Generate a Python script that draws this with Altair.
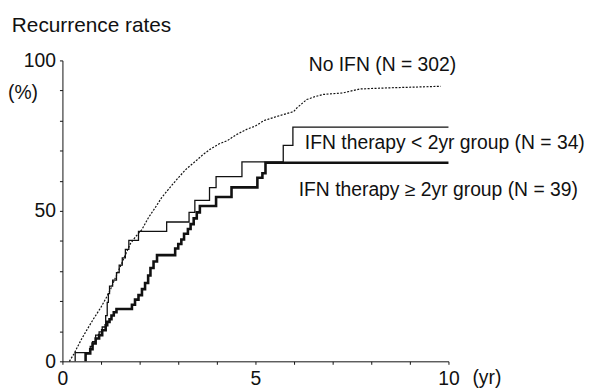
import altair as alt
import pandas as pd

# ---- data (years, % recurrence) ----
no_ifn_t = [0.18, 0.30, 0.39, 0.50, 0.65, 0.80, 1.00, 1.15, 1.25, 1.33, 1.45, 1.60, 1.76, 1.90,
            2.06, 2.23, 2.40, 2.57, 2.80, 3.00, 3.20, 3.43, 3.65, 3.85, 4.05, 4.28, 4.50, 4.79,
            5.00, 5.22, 5.56, 5.99, 6.08, 6.33, 6.55, 6.76, 7.27, 7.70, 8.26, 9.80]
no_ifn_v = [0.0, 2.5, 4.8, 7.5, 10.8, 14.0, 18.0, 21.5, 24.0, 26.5, 30.0, 34.5, 39.1, 41.5,
            43.8, 47.8, 51.0, 54.4, 58.0, 61.0, 63.8, 66.3, 68.8, 70.7, 72.2, 73.4, 75.3, 77.2,
            78.2, 80.0, 81.4, 83.0, 84.3, 87.0, 88.0, 88.7, 89.2, 90.5, 90.8, 91.4]

lt2_t = [0.33, 0.33, 0.72, 0.78, 0.86, 0.95, 1.03, 1.12, 1.16, 1.19, 1.22, 1.30, 1.40, 1.47,
         1.55, 1.63, 1.72, 1.97, 2.70, 3.28, 3.43, 3.81, 3.98, 4.65, 5.72, 5.97, 10.0]
lt2_v = [0.0, 2.9, 5.0, 6.5, 8.7, 9.8, 11.4, 15.2, 19.6, 22.5, 25.0, 27.0, 29.5, 32.0,
         34.4, 37.2, 40.2, 43.2, 46.3, 49.5, 53.5, 57.7, 61.4, 66.3, 71.8, 77.8, 77.8]

ge2_t = [0.60, 0.60, 0.72, 0.78, 0.86, 0.95, 1.03, 1.12, 1.16, 1.22, 1.27, 1.33, 1.40, 1.80,
         1.88, 1.97, 2.06, 2.14, 2.22, 2.28, 2.36, 2.45, 2.92, 3.00, 3.08, 3.15, 3.25, 3.32,
         3.40, 3.48, 3.56, 3.98, 4.38, 5.05, 5.18, 5.26, 10.0]
ge2_v = [0.0, 2.6, 4.0, 5.9, 7.6, 8.7, 10.3, 12.0, 13.1, 14.0, 15.2, 16.3, 17.4, 18.8,
         20.5, 22.0, 24.0, 26.0, 28.5, 31.0, 33.2, 35.3, 37.5, 39.0, 40.5, 42.4, 44.0, 45.6,
         47.5, 49.5, 51.6, 54.6, 57.8, 61.0, 62.5, 66.0, 66.0]

label_text = ["Recurrence rates", "(%)", "(yr)", "No IFN (N = 302)",
              "IFN therapy < 2yr group (N = 34)", "IFN therapy \u2265 2yr group (N = 39)"]
label_t = [-1.31, -1.41, 10.62, 6.38, 6.28, 6.12]
label_v = [111.5, 89.1, -5.6, 98.4, 72.7, 56.9]
label_size = [21, 19.5, 19.5, 19.5, 19.5, 19.5]

x_ticks = list(range(0, 11))
y_ticks = list(range(0, 101, 10))

FONT = "Liberation Sans"
INK = "#111111"

df_no = pd.DataFrame({"t": no_ifn_t, "v": no_ifn_v})
df_lt2 = pd.DataFrame({"t": lt2_t, "v": lt2_v})
df_ge2 = pd.DataFrame({"t": ge2_t, "v": ge2_v})
df_lab = pd.DataFrame({"t": label_t, "v": label_v, "text": label_text, "fs": label_size})

x_enc = alt.X("t:Q", title=None,
              scale=alt.Scale(domain=[0, 10], nice=False, zero=False),
              axis=alt.Axis(values=x_ticks, labelExpr="datum.value % 5 == 0 ? datum.label : ''",
                            labelAngle=0, labelFlush=False, labelOverlap=False,
                            tickSize=3, labelPadding=5,
                            grid=False, domainColor=INK, tickColor=INK, labelColor=INK,
                            labelFont=FONT, labelFontSize=19.5, labelFontWeight="normal"))
y_enc = alt.Y("v:Q", title=None,
              scale=alt.Scale(domain=[0, 100], nice=False),
              axis=alt.Axis(values=y_ticks, labelExpr="datum.value % 50 == 0 ? datum.label : ''",
                            labelOverlap=False, tickSize=3, labelPadding=4, grid=False,
                            domainColor=INK, tickColor=INK, labelColor=INK, labelFont=FONT,
                            labelFontSize=19.5, labelFontWeight="normal"))

no_line = alt.Chart(df_no).mark_line(color=INK, strokeWidth=1.2, strokeDash=[2, 1.5]).encode(
    x=x_enc, y=y_enc, order="t:Q")
lt2_line = alt.Chart(df_lt2).mark_line(color=INK, strokeWidth=1.3, interpolate="step-after").encode(
    x=x_enc, y=y_enc, order=alt.Order("t:Q"))
ge2_line = alt.Chart(df_ge2).mark_line(color=INK, strokeWidth=2.6, interpolate="step-after").encode(
    x=x_enc, y=y_enc, order=alt.Order("t:Q"))
labels = alt.Chart(df_lab).mark_text(align="left", baseline="middle", font=FONT,
                                     color=INK).encode(
    x=x_enc, y=y_enc, text="text:N", size=alt.Size("fs:Q", scale=None, legend=None))

chart = alt.layer(no_line, lt2_line, ge2_line, labels).properties(
    width=390, height=304,
    autosize=alt.AutoSizeParams(type="none"),
    padding={"left": 55, "top": 51, "right": 144, "bottom": 25},
    background="white",
).configure_view(stroke=None).configure_axis(labelOverlap=False)

chart.save("out.html", embed_options={"renderer": "svg", "actions": False})
